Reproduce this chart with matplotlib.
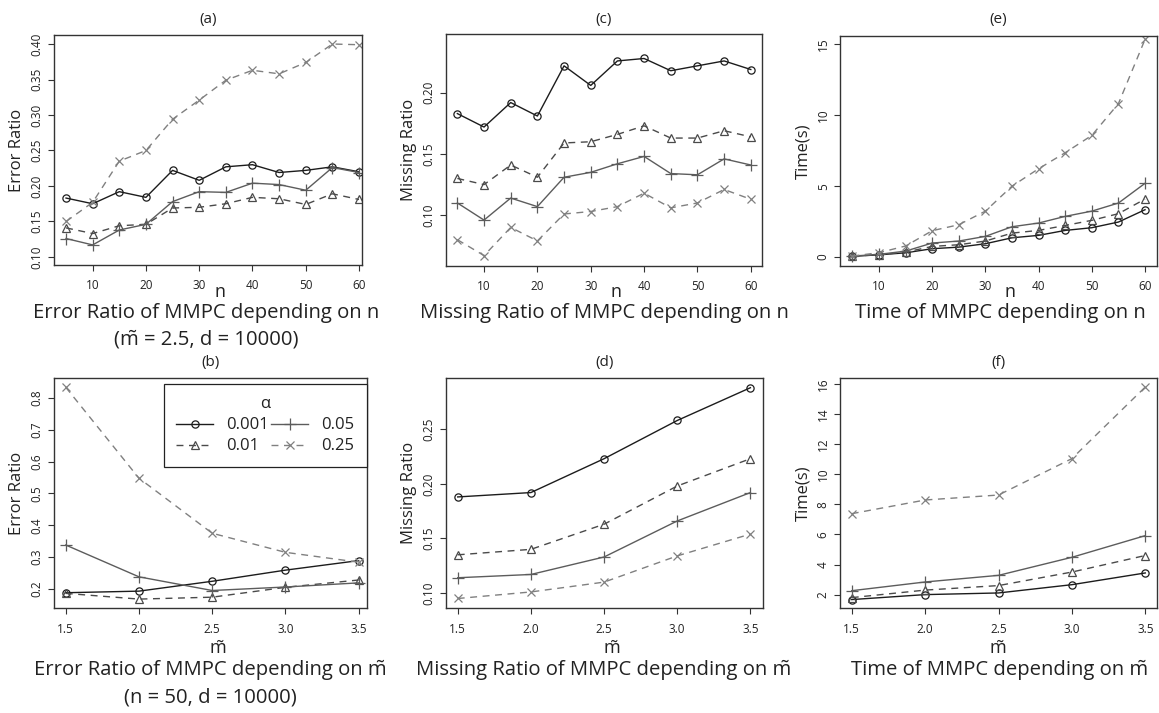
import matplotlib
matplotlib.use("Agg")
import matplotlib.pyplot as plt

# ---------------- data ----------------
n_vals = [5, 10, 15, 20, 25, 30, 35, 40, 45, 50, 55, 60]
m_vals = [1.5, 2.0, 2.5, 3.0, 3.5]
alpha_labels = ["0.001", "0.01", "0.05", "0.25"]

# (a) Error ratio vs n
err_n_001 = [0.183, 0.175, 0.192, 0.184, 0.222, 0.208, 0.227, 0.230, 0.219, 0.222, 0.227, 0.220]
err_n_01 = [0.141, 0.133, 0.144, 0.146, 0.169, 0.170, 0.175, 0.184, 0.182, 0.174, 0.189, 0.181]
err_n_05 = [0.126, 0.117, 0.138, 0.146, 0.178, 0.192, 0.191, 0.204, 0.202, 0.194, 0.226, 0.219]
err_n_25 = [0.150, 0.177, 0.235, 0.250, 0.294, 0.321, 0.349, 0.363, 0.358, 0.374, 0.400, 0.399]

# (c) Missing ratio vs n
mis_n_001 = [0.183, 0.172, 0.192, 0.181, 0.222, 0.206, 0.226, 0.228, 0.218, 0.222, 0.226, 0.219]
mis_n_01 = [0.130, 0.125, 0.141, 0.131, 0.159, 0.160, 0.166, 0.173, 0.163, 0.163, 0.169, 0.164]
mis_n_05 = [0.110, 0.096, 0.114, 0.107, 0.131, 0.135, 0.142, 0.148, 0.134, 0.133, 0.146, 0.141]
mis_n_25 = [0.080, 0.067, 0.090, 0.079, 0.101, 0.103, 0.107, 0.118, 0.106, 0.110, 0.121, 0.113]

# (e) Time vs n
time_n_001 = [0.05, 0.16, 0.30, 0.59, 0.70, 0.94, 1.36, 1.53, 1.88, 2.07, 2.47, 3.34]
time_n_01 = [0.07, 0.16, 0.35, 0.75, 0.87, 1.13, 1.69, 1.88, 2.23, 2.59, 3.06, 4.09]
time_n_05 = [0.07, 0.19, 0.42, 0.99, 1.13, 1.46, 2.14, 2.40, 2.87, 3.24, 3.81, 5.20]
time_n_25 = [0.07, 0.31, 0.78, 1.86, 2.28, 3.24, 5.00, 6.23, 7.36, 8.58, 10.82, 15.35]

# (b) Error ratio vs m~
err_m_001 = [0.188, 0.193, 0.224, 0.259, 0.289]
err_m_01 = [0.186, 0.168, 0.174, 0.205, 0.228]
err_m_05 = [0.338, 0.238, 0.195, 0.206, 0.219]
err_m_25 = [0.834, 0.548, 0.375, 0.315, 0.284]

# (d) Missing ratio vs m~
mis_m_001 = [0.188, 0.192, 0.223, 0.258, 0.288]
mis_m_01 = [0.135, 0.140, 0.163, 0.198, 0.223]
mis_m_05 = [0.114, 0.117, 0.133, 0.166, 0.192]
mis_m_25 = [0.095, 0.101, 0.110, 0.134, 0.154]

# (f) Time vs m~
time_m_001 = [1.67, 2.00, 2.11, 2.66, 3.44]
time_m_01 = [1.80, 2.30, 2.60, 3.50, 4.60]
time_m_05 = [2.26, 2.84, 3.28, 4.48, 5.92]
time_m_25 = [7.38, 8.29, 8.62, 11.04, 15.80]

MT = "m\u0303"
n_ticks = [10, 20, 30, 40, 50, 60]
m_ticks = [1.5, 2.0, 2.5, 3.0, 3.5]

# ---------------- styling ----------------
W, H = 1159, 713
FONT = ["Open Sans", "DejaVu Sans"]
plt.rcParams["font.family"] = FONT
TXT = "#222222"

styles = [
    dict(color="#1c1c1c", ls="-", marker="o", ms=5.2),
    dict(color="#4a4a4a", ls=(0, (5, 4)), marker="^", ms=5.8),
    dict(color="#5c5c5c", ls="-", marker="+", ms=8.5),
    dict(color="#808080", ls=(0, (5, 4)), marker="x", ms=6.2),
]

fig = plt.figure(figsize=(W / 100, H / 100), dpi=100)


def px_axes(x0, y0, x1, y1):
    return fig.add_axes([x0 / W, 1 - y1 / H, (x1 - x0) / W, (y1 - y0) / H])


def ftext(x, y, s, **kw):
    kw.setdefault("color", TXT)
    kw.setdefault("ha", "center")
    kw.setdefault("va", "baseline")
    fig.text(x / W, 1 - y / H, s, **kw)


panels = [
    ("(a)", (54, 35, 362, 265), n_vals, [err_n_001, err_n_01, err_n_05, err_n_25],
     (2.74, 60.56), (0.0887, 0.4127), [0.10, 0.15, 0.20, 0.25, 0.30, 0.35, 0.40], "{:.2f}",
     "Error Ratio", n_ticks, "{:d}", 0),
    ("(c)", (446, 34, 762, 266), n_vals, [mis_n_001, mis_n_01, mis_n_05, mis_n_25],
     (2.87, 62.1), (0.0585, 0.248), [0.10, 0.15, 0.20], "{:.2f}",
     "Missing Ratio", n_ticks, "{:d}", 0),
    ("(e)", (840, 36, 1157, 266), n_vals, [time_n_001, time_n_01, time_n_05, time_n_25],
     (2.67, 62.25), (-0.63, 15.59), [0, 5, 10, 15], "{:d}",
     "Time(s)", n_ticks, "{:d}", 0),
    ("(b)", (54, 378, 367, 608), m_vals, [err_m_001, err_m_01, err_m_05, err_m_25],
     (1.42, 3.557), (0.140, 0.863), [0.2, 0.3, 0.4, 0.5, 0.6, 0.7, 0.8], "{:.1f}",
     "Error Ratio", m_ticks, "{:.1f}", 1),
    ("(d)", (446, 378, 763, 608), m_vals, [mis_m_001, mis_m_01, mis_m_05, mis_m_25],
     (1.42, 3.586), (0.0863, 0.2969), [0.10, 0.15, 0.20, 0.25], "{:.2f}",
     "Missing Ratio", m_ticks, "{:.1f}", 1),
    ("(f)", (840, 378, 1157, 608), m_vals, [time_m_001, time_m_01, time_m_05, time_m_25],
     (1.42, 3.58), (1.11, 16.4), [2, 4, 6, 8, 10, 12, 14, 16], "{:d}",
     "Time(s)", m_ticks, "{:.1f}", 1),
]

axes = {}
for (key, rect, xs, series, xlim, ylim, yt, yfmt, ylab, xt, xfmt, row) in panels:
    ax = px_axes(*rect)
    axes[key] = ax
    for lab, ys, st in zip(alpha_labels, series, styles):
        ax.plot(xs, ys, color=st["color"], linestyle=st["ls"], lw=1.0,
                marker=st["marker"], ms=st["ms"], mfc="none", mec=st["color"],
                mew=0.9, label=lab)
    ax.set_xlim(*xlim)
    ax.set_ylim(*ylim)
    ax.set_xticks(xt)
    ax.set_xticklabels([xfmt.format(v) for v in xt])
    ax.set_yticks(yt)
    ax.set_yticklabels([yfmt.format(v) for v in yt], rotation=90, va="center")
    ax.tick_params(axis="both", direction="out", length=4.3, width=0.8,
                   colors="#333333", labelcolor=TXT, labelsize=8.5)
    ax.tick_params(axis="x", pad=5.5 if row == 0 else 6.5)
    ax.tick_params(axis="y", pad=3.0)
    for sp in ax.spines.values():
        sp.set_color("#333333")
        sp.set_linewidth(1.0)
    x0, y0, x1, y1 = rect
    ax.set_ylabel(ylab, fontsize=12, color=TXT, va="center")
    ax.yaxis.set_label_coords(-37 / (x1 - x0), 0.5)
    cx = (x0 + x1) / 2
    ty = 19 if row == 0 else 362
    ftext(cx, ty, key, fontsize=11, va="center")

# x labels and captions
XL = 13
ftext(208 + 12, 297, "n", fontsize=XL)
ftext(604 + 12, 297, "n", fontsize=XL)
ftext(998 + 12, 297, "n", fontsize=XL)
ftext(210 + 8, 653, MT, fontsize=XL)
ftext(604 + 8, 653, MT, fontsize=XL)
ftext(998, 653, MT, fontsize=XL)

CAP = 14.6
ftext(206, 318, "Error Ratio of MMPC depending on n", fontsize=CAP)
ftext(206, 345, "(" + MT + " = 2.5, d = 10000)", fontsize=CAP)
ftext(604, 318, "Missing Ratio of MMPC depending on n", fontsize=CAP)
ftext(1000, 318, "Time of MMPC depending on n", fontsize=CAP)
ftext(210, 675, "Error Ratio of MMPC depending on " + MT, fontsize=CAP)
ftext(210, 702, "(n = 50, d = 10000)", fontsize=CAP)
ftext(604, 675, "Missing Ratio of MMPC depending on " + MT, fontsize=CAP)
ftext(1000, 675, "Time of MMPC depending on " + MT, fontsize=CAP)

# legend in (b)
axb = axes["(b)"]
leg = axb.legend(title="\u03b1", ncol=2, loc="upper left",
                 bbox_to_anchor=(0.351, 0.609, 0.649, 0.365), mode="expand",
                 borderaxespad=0, fontsize=12, title_fontsize=12,
                 handlelength=2.2, handletextpad=0.8, columnspacing=1.0,
                 labelspacing=0.3, borderpad=0.75, fancybox=False,
                 framealpha=1, edgecolor="#222222")
leg.get_frame().set_linewidth(0.9)
for t in leg.get_texts():
    t.set_color(TXT)
leg.get_title().set_color(TXT)

fig.savefig("out.png", dpi=100)
